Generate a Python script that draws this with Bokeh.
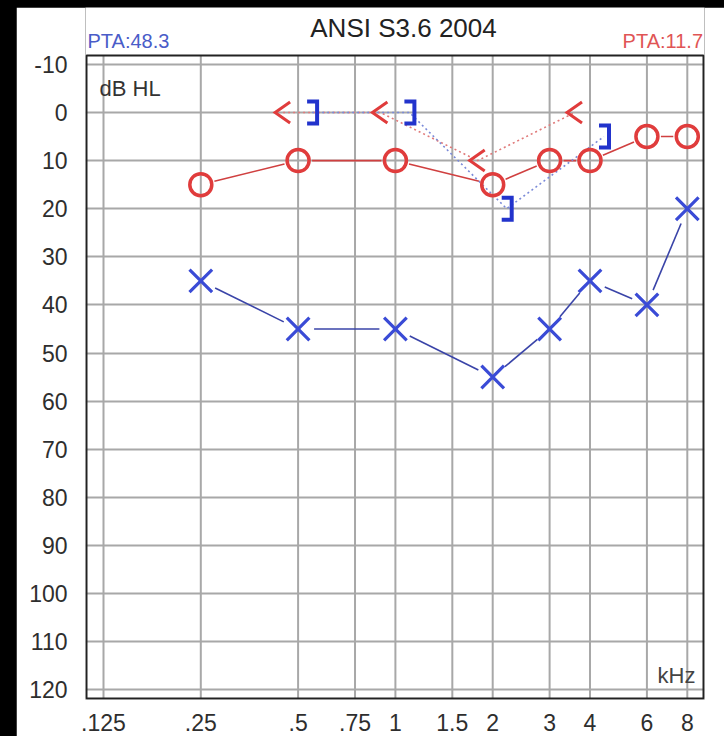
import numpy as np
from bokeh.plotting import figure
from bokeh.models import (Range1d, FixedTicker, CustomJSTickFormatter, Label,
                          GlobalInlineStyleSheet)
from bokeh.embed import file_html
from bokeh.resources import INLINE

# ---------------- data ----------------
freqs = [0.25, 0.5, 1, 2, 3, 4, 6, 8]            # kHz
right_ac = [15, 10, 10, 15, 10, 10, 5, 5]         # red O
left_ac = [35, 45, 45, 55, 45, 35, 40, 20]        # blue X
bc_freqs = [0.5, 1, 2, 4]
right_bc = [0, 0, 10, 0]                          # red <
left_bc_masked = [0, 0, 20, 5]                    # blue ]
x_ticks = [0.125, 0.25, 0.5, 0.75, 1, 1.5, 2, 3, 4, 6, 8]
x_tick_labels = [".125", ".25", ".5", ".75", "1", "1.5", "2", "3", "4", "6", "8"]
y_ticks = [-10, 0, 10, 20, 30, 40, 50, 60, 70, 80, 90, 100, 110, 120]
title_text = "ANSI S3.6 2004"
pta_left_text = "PTA:48.3"
pta_right_text = "PTA:11.7"
y_unit_text = "dB HL"
x_unit_text = "kHz"

# ---------------- geometry (figure pixels) ----------------
W, H = 708, 729
PX_OCT, PX_DB = 97.3, 4.81      # pixels per octave / per dB
X_ANCHOR, Y_ANCHOR = 87, 105    # pixel of 0.125 kHz and of 0 dB


def xv(px):
    return 0.125 * 2 ** ((px - X_ANCHOR) / PX_OCT)


def yv(py):
    return (py - Y_ANCHOR) / PX_DB


box_l, box_r, box_t, box_b = 70, 687, 48, 691
fr_l, fr_r, fr_t, fr_b = 69, 688, 0, 692
x_box0, x_box1 = xv(box_l), xv(box_r)
y_box0, y_box1 = yv(box_t), yv(box_b)

RED = "#e03c3c"
BLUE = "#3a4bd6"
FONT = "Liberation Sans"

p = figure(width=W, height=H, x_axis_type="log",
           x_range=Range1d(xv(fr_l), xv(fr_r)), y_range=Range1d(yv(fr_b), yv(fr_t)),
           output_backend="svg", toolbar_location=None,
           min_border_left=fr_l, min_border_right=W - fr_r,
           min_border_top=fr_t, min_border_bottom=H - fr_b)
p.stylesheets = [GlobalInlineStyleSheet(css=(
    "html{background:#000;} body{margin:7px 0 0 16px;padding:0;overflow:hidden;}"))]
p.background_fill_color = "white"
p.border_fill_color = "white"
p.outline_line_color = None

xt = FixedTicker(ticks=x_ticks)
yt = FixedTicker(ticks=y_ticks)
p.xaxis.ticker = xt
p.yaxis.ticker = yt
p.xgrid.visible = False
p.ygrid.ticker = yt
p.ygrid.grid_line_color = "#a8a8a8"
p.ygrid.grid_line_width = 2
p.xaxis.formatter = CustomJSTickFormatter(
    args=dict(tv=x_ticks, tl=x_tick_labels),
    code="const i = tv.findIndex(t => Math.abs(t - tick) < 1e-6); return i >= 0 ? tl[i] : '';")
p.yaxis.formatter = CustomJSTickFormatter(code="return String(tick);")
for ax in (p.xaxis, p.yaxis):
    ax.axis_line_color = None
    ax.major_tick_line_color = None
    ax.minor_tick_line_color = None
    ax.major_label_text_font = FONT
    ax.major_label_text_font_size = "23px"
    ax.major_label_text_color = "#2e2e2e"
p.xaxis.major_label_standoff = 8
p.yaxis.major_label_standoff = 12

# vertical grid lines only inside the chart box
p.segment(x0=x_ticks, y0=[y_box0] * len(x_ticks), x1=x_ticks, y1=[y_box1] * len(x_ticks),
          line_color="#a8a8a8", line_width=2, level="underlay")
# chart box
p.quad(left=[x_box0], right=[x_box1], top=[y_box0], bottom=[y_box1],
       fill_color=None, line_color="#222222", line_width=2)


def gap_segments(xs, ys, gap):
    u = np.log2(np.asarray(xs, float)) * PX_OCT
    v = np.asarray(ys, float) * PX_DB
    du, dv = np.diff(u), np.diff(v)
    L = np.hypot(du, dv)
    ux, uy = du / L, dv / L
    x0 = 2 ** ((u[:-1] + ux * gap) / PX_OCT)
    y0 = (v[:-1] + uy * gap) / PX_DB
    x1 = 2 ** ((u[1:] - ux * gap) / PX_OCT)
    y1 = (v[1:] - uy * gap) / PX_DB
    return x0, y0, x1, y1


def shift(fs, px):
    return [f * 2 ** (px / PX_OCT) for f in fs]


# air-conduction connecting lines (with gaps at the markers)
x0, y0, x1, y1 = gap_segments(freqs, right_ac, 14)
p.segment(x0, y0, x1, y1, line_color="#d04040", line_width=1.6)
x0, y0, x1, y1 = gap_segments(freqs, left_ac, 16)
p.segment(x0, y0, x1, y1, line_color="#3a44a8", line_width=1.6)

# bone-conduction dotted lines
p.line(shift(bc_freqs, -15), right_bc, line_color="#e07a7a", line_width=1.6,
       line_dash="2 3")
p.line(shift(bc_freqs, 14), left_bc_masked, line_color="#7a8ad8", line_width=1.6,
       line_dash="2 3")

# bone-conduction symbols
h_lt = 10.5 / PX_DB
lt_xs = [[a, t, a] for a, t in zip(shift(bc_freqs, -8), shift(bc_freqs, -23))]
lt_ys = [[d - h_lt, d, d + h_lt] for d in right_bc]
p.multi_line(lt_xs, lt_ys, line_color=RED, line_width=3, line_join="miter")

h_br = 11 / PX_DB
br_xs = [[s, v, v, s] for s, v in zip(shift(bc_freqs, 9), shift(bc_freqs, 19))]
br_ys = [[d - h_br, d - h_br, d + h_br, d + h_br] for d in left_bc_masked]
p.multi_line(br_xs, br_ys, line_color="#2233cc", line_width=4, line_join="miter")

# air-conduction markers
p.scatter(freqs, left_ac, marker="x", size=32, line_width=3.2, line_color=BLUE)
p.scatter(freqs, right_ac, marker="circle", size=22, line_width=3.5,
          line_color=RED, fill_color=None)


# texts (placed by their vertical middle)
def label(x_px, y_px, text, align, size, color):
    p.add_layout(Label(x=xv(x_px), y=yv(y_px), text=text, text_align=align,
                       text_baseline="middle", text_font=FONT,
                       text_font_size=size, text_color=color))


label(387, 20, title_text, "center", "26px", "#222222")
label(71, 33, pta_left_text, "left", "20px", "#4a5cc8")
label(686.5, 33, pta_right_text, "right", "20px", "#e05555")
label(83, 80.5, y_unit_text, "left", "22px", "#333333")
label(679, 667.5, x_unit_text, "right", "22px", "#444444")

open("out.html", "w").write(file_html(p, INLINE))
